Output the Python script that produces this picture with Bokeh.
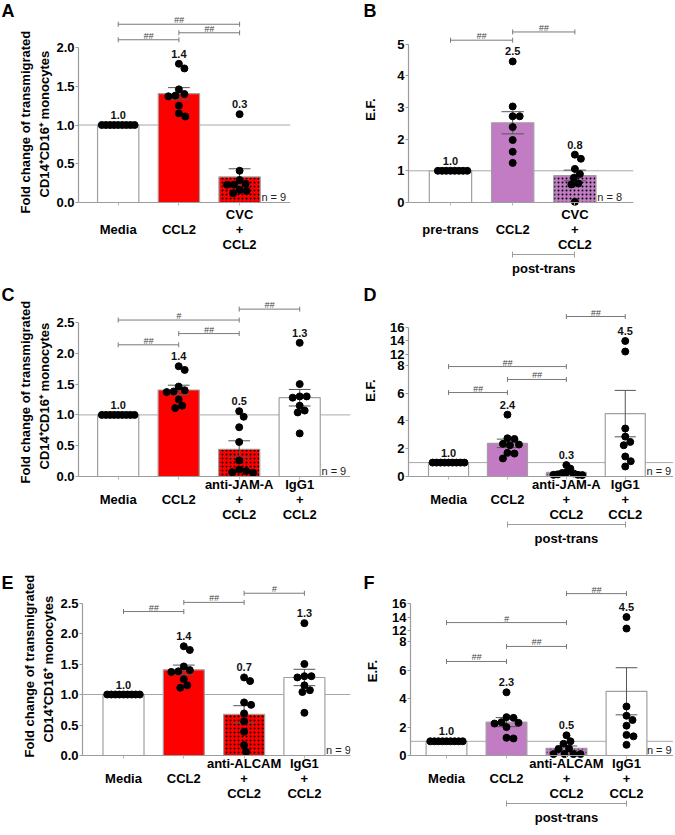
import numpy as np
from bokeh.plotting import figure
from bokeh.models import (Range1d, FixedTicker, Span, LinearAxis, Title,
                          NumeralTickFormatter, ColumnDataSource)
from bokeh.layouts import column, row
from bokeh.embed import file_html
from bokeh.resources import INLINE
from bokeh.core.properties import value

FONT = "Liberation Sans"

# ------------------------------------------------------------------ data
FOLD_LABEL = ["Fold change of transmigrated", "CD14\u207aCD16\u207a monocytes"]
EF_LABEL = ["E.F."]

# Panel A
A_groups = ["Media", "CCL2", "CVC\n+\nCCL2"]
A_media = [1.0, 1.0, 1.0, 1.0, 1.0, 1.0, 1.0, 1.0, 1.0]
A_ccl2 = [1.79, 1.73, 1.46, 1.40, 1.38, 1.37, 1.25, 1.15, 1.11]
A_cvc = [1.14, 0.41, 0.29, 0.24, 0.23, 0.23, 0.16, 0.15, 0.12]
A_means = ["1.0", "1.4", "0.3"]
A_sig = [(0, 1, "##"), (1, 2, "##"), (0, 2, "##")]
A_yticks = [0.0, 0.5, 1.0, 1.5, 2.0]
A_n = "n = 9"

# Panel B
B_groups = ["pre-trans", "CCL2", "CVC\n+\nCCL2"]
B_pre = [1.0, 1.0, 1.0, 1.0, 1.0, 1.0, 1.0, 1.0]
B_ccl2 = [4.45, 3.03, 2.72, 2.72, 2.38, 1.97, 1.60, 1.25]
B_cvc = [1.51, 1.38, 1.06, 0.90, 0.78, 0.60, 0.57, 0.02]
B_means = ["1.0", "2.5", "0.8"]
B_sig = [(0, 1, "##"), (1, 2, "##")]
B_yticks = [0, 1, 2, 3, 4, 5]
B_n = "n = 8"
B_post = (1, 2, "post-trans")

# Panel C
C_groups = ["Media", "CCL2", "anti-JAM-A\n+\nCCL2", "IgG1\n+\nCCL2"]
C_media = [1.0, 1.0, 1.0, 1.0, 1.0, 1.0, 1.0, 1.0, 1.0]
C_ccl2 = [1.79, 1.73, 1.46, 1.40, 1.38, 1.37, 1.25, 1.15, 1.11]
C_antijam = [1.06, 0.97, 0.80, 0.56, 0.26, 0.11, 0.09, 0.07, 0.06]
C_igg1 = [2.17, 1.50, 1.30, 1.30, 1.28, 1.15, 1.07, 1.04, 0.70]
C_means = ["1.0", "1.4", "0.5", "1.3"]
C_sig = [(0, 1, "##"), (1, 2, "##"), (0, 2, "#"), (2, 3, "##")]
C_yticks = [0.0, 0.5, 1.0, 1.5, 2.0, 2.5]
C_n = "n = 9"

# Panel D
D_groups = ["Media", "CCL2", "anti-JAM-A\n+\nCCL2", "IgG1\n+\nCCL2"]
D_media = [1.0, 1.0, 1.0, 1.0, 1.0, 1.0, 1.0, 1.0, 1.0]
D_ccl2 = [4.45, 2.75, 2.70, 2.35, 2.30, 2.25, 1.70, 1.65, 1.30]
D_antijam = [0.82, 0.57, 0.30, 0.25, 0.22, 0.15, 0.12, 0.12, 0.10]
D_igg1 = [14.0, 12.4, 3.45, 2.87, 2.49, 2.25, 1.44, 1.10, 0.72]
D_means = ["1.0", "2.4", "0.3", "4.5"]
D_sig = [(0, 1, "##"), (1, 2, "##"), (0, 2, "##"), (2, 3, "##")]
D_yticks = [0, 2, 4, 6, 8, 12, 14, 16]
D_n = "n = 9"
D_post = (1, 3, "post-trans")

# Panel E
E_groups = ["Media", "CCL2", "anti-ALCAM\n+\nCCL2", "IgG1\n+\nCCL2"]
E_media = [1.0, 1.0, 1.0, 1.0, 1.0, 1.0, 1.0, 1.0, 1.0]
E_ccl2 = [1.79, 1.73, 1.46, 1.40, 1.38, 1.37, 1.25, 1.15, 1.11]
E_antialcam = [1.28, 1.22, 0.87, 0.83, 0.69, 0.56, 0.39, 0.17, 0.06]
E_igg1 = [2.17, 1.50, 1.30, 1.30, 1.28, 1.15, 1.07, 1.04, 0.70]
E_means = ["1.0", "1.4", "0.7", "1.3"]
E_sig = [(0, 1, "##"), (1, 2, "##"), (2, 3, "#")]
E_yticks = [0.0, 0.5, 1.0, 1.5, 2.0, 2.5]
E_n = "n = 9"

# Panel F
F_groups = ["Media", "CCL2", "anti-ALCAM\n+\nCCL2", "IgG1\n+\nCCL2"]
F_media = [1.0, 1.0, 1.0, 1.0, 1.0, 1.0, 1.0, 1.0, 1.0]
F_ccl2 = [4.45, 2.70, 2.65, 2.35, 2.30, 2.25, 2.00, 1.25, 1.20]
F_antialcam = [1.42, 1.00, 0.82, 0.50, 0.45, 0.10, 0.10, 0.10, 0.10]
F_igg1 = [14.0, 12.3, 3.45, 2.80, 2.50, 2.10, 1.45, 1.35, 0.75]
F_means = ["1.0", "2.3", "0.5", "4.5"]
F_sig = [(0, 1, "##"), (1, 2, "##"), (0, 2, "#"), (2, 3, "##")]
F_yticks = [0, 2, 4, 6, 8, 12, 14, 16]
F_n = "n = 9"
F_post = (1, 3, "post-trans")

PANELS = {
    "A": dict(groups=A_groups, values=[A_media, A_ccl2, A_cvc], means=A_means, sig=A_sig,
              yticks=A_yticks, n=A_n, post=None, ylabel=FOLD_LABEL, broken=False, fmt="0.0"),
    "B": dict(groups=B_groups, values=[B_pre, B_ccl2, B_cvc], means=B_means, sig=B_sig,
              yticks=B_yticks, n=B_n, post=B_post, ylabel=EF_LABEL, broken=False, fmt="0"),
    "C": dict(groups=C_groups, values=[C_media, C_ccl2, C_antijam, C_igg1], means=C_means, sig=C_sig,
              yticks=C_yticks, n=C_n, post=None, ylabel=FOLD_LABEL, broken=False, fmt="0.0"),
    "D": dict(groups=D_groups, values=[D_media, D_ccl2, D_antijam, D_igg1], means=D_means, sig=D_sig,
              yticks=D_yticks, n=D_n, post=D_post, ylabel=EF_LABEL, broken=True, fmt="0"),
    "E": dict(groups=E_groups, values=[E_media, E_ccl2, E_antialcam, E_igg1], means=E_means, sig=E_sig,
              yticks=E_yticks, n=E_n, post=None, ylabel=FOLD_LABEL, broken=False, fmt="0.0"),
    "F": dict(groups=F_groups, values=[F_media, F_ccl2, F_antialcam, F_igg1], means=F_means, sig=F_sig,
              yticks=F_yticks, n=F_n, post=F_post, ylabel=EF_LABEL, broken=True, fmt="0"),
}

# ------------------------------------------------------------------ style / layout
RED = "#FF0000"
PURPLE = "#C17CC3"
WHITE = "#FFFFFF"
GREY = "#9c9c9c"
PAD = 4  # px of frame below zero

LAYOUT = {
    "A": dict(w=360, h=284, left=78, right=70, top=12, bottom=78, x0=-0.654, ppx=60.7, ppu=77.5,
              fills=[WHITE, RED, RED], hatches=[" ", " ", "."], sig_y=[2.10, 2.19, 2.30],
              xstand=0, post_gap=0, ystand=0, letter_x=1, letter_so=-16, yoff=[-7, 9], nx=0.36),
    "B": dict(w=313, h=284, left=48, right=40, top=12, bottom=78, x0=-0.675, ppx=62.2, ppu=31.7,
              fills=[WHITE, PURPLE, PURPLE], hatches=[" ", " ", "."], sig_y=[5.12, 5.38],
              xstand=0, post_gap=0, ystand=16, letter_x=3, letter_so=-16, yoff=None, nx=0.36),
    "C": dict(w=360, h=270, left=78, right=10, top=16, bottom=74, x0=-0.656, ppx=60.5, ppu=61.6,
              fills=[WHITE, RED, RED, WHITE], hatches=[" ", " ", ".", " "], sig_y=[2.138, 2.32, 2.54, 2.717],
              xstand=-4, post_gap=0, ystand=0, letter_x=1, letter_so=-8, yoff=[-3, 11], nx=0.36),
    "D": dict(w=313, h=270, left=48, right=0, top=16, bottom=74, x0=-0.68, ppx=58.9, ppu=13.9,
              fills=[WHITE, PURPLE, PURPLE, WHITE], hatches=[" ", " ", ".", " "], sig_y=[6.04, 6.98, 7.91, 11.51],
              xstand=-4, post_gap=0, ystand=9, letter_x=3, letter_so=-8, yoff=None, nx=0.36),
    "E": dict(w=360, h=279, left=82, right=10, top=28, bottom=74, x0=-0.68, ppx=60.3, ppu=61.0,
              fills=[WHITE, RED, RED, WHITE], hatches=[" ", " ", ".", " "], sig_y=[2.36, 2.51, 2.66],
              xstand=-4, post_gap=0, ystand=0, letter_x=1, letter_so=-20, yoff=[2, 17], nx=0.36),
    "F": dict(w=313, h=279, left=50, right=0, top=28, bottom=74, x0=-0.6, ppx=60.0, ppu=14.2,
              fills=[WHITE, PURPLE, PURPLE, WHITE], hatches=[" ", " ", ".", " "], sig_y=[6.62, 7.68, 9.36, 11.4],
              xstand=-4, post_gap=0, ystand=9, letter_x=3, letter_so=-20, yoff=None, nx=0.34),
}
YTITLE_STANDOFF = (2, 2)  # (line nearest the axis, outer line)

BRK_LO, BRK_HI, BRK_GAP, BRK_K = 8.0, 12.0, 0.8, 0.475


def brk(v):
    v = np.asarray(v, dtype=float)
    out = np.where(v <= BRK_LO, v, BRK_LO + BRK_GAP + (v - BRK_HI) * BRK_K)
    return np.round(out, 4)


def ident(v):
    return np.asarray(v, dtype=float)


def swarm(ypx, d, limit):
    """Simple beeswarm: x offsets (px) so that dots of diameter d don't overlap."""
    ypx = np.asarray(ypx, float)
    cands = [0.0]
    for k in range(1, 400):
        cands += [k * 0.5, -k * 0.5]
    offs = np.zeros(len(ypx))
    placed = []
    for i in np.argsort(-ypx, kind="stable"):
        for c in cands:
            if all((c - ox) ** 2 + (ypx[i] - oy) ** 2 >= d * d - 1e-6 for ox, oy in placed):
                offs[i] = c
                placed.append((c, ypx[i]))
                break
    m = np.max(np.abs(offs)) if len(offs) else 0
    if m > limit:
        offs = offs * limit / m
    return offs


def display_labels(groups):
    nmax = max(g.count("\n") + 1 for g in groups)
    out = []
    for g in groups:
        lines = g.count("\n") + 1
        out.append("\n" + g if (nmax == 3 and lines == 1) else g)
    return out


def style_text(obj, prefix, size="13px", style="bold"):
    setattr(obj, prefix + "_text_font", FONT)
    setattr(obj, prefix + "_text_font_size", size)
    setattr(obj, prefix + "_text_font_style", style)
    setattr(obj, prefix + "_text_color", "black")


def build(key):
    d = PANELS[key]
    L = LAYOUT[key]
    n = len(d["groups"])
    tf = brk if d["broken"] else ident
    fh = L["h"] - L["top"] - L["bottom"]
    fw = L["w"] - L["left"] - L["right"]
    ppu, ppx = L["ppu"], L["ppx"]
    ys = -PAD / ppu
    ye = ys + fh / ppu
    x0 = L["x0"]
    x1 = x0 + fw / ppx

    p = figure(width=L["w"], height=L["h"], x_range=Range1d(x0, x1), y_range=Range1d(ys, ye),
               output_backend="svg", toolbar_location=None, title=key,
               min_border_left=L["left"], min_border_right=L["right"],
               min_border_top=L["top"], min_border_bottom=L["bottom"])
    p.outline_line_color = None
    p.xgrid.visible = False
    p.ygrid.visible = False
    p.background_fill_color = "white"
    p.border_fill_color = "white"

    # panel letter (title pulled down next to the frame's top-left corner)
    p.title.align = "left"
    p.title.vertical_align = "bottom"
    p.title.offset = L["letter_x"] - L["left"]
    p.title.standoff = L["letter_so"]
    p.title.text_font = FONT
    p.title.text_font_size = "18px"
    p.title.text_font_style = "bold"
    p.title.text_color = "black"

    # reference line at 1
    p.add_layout(Span(location=float(tf([1.0])[0]), dimension="width", line_color="#a8a8a8",
                      line_width=1, level="underlay"))

    vals = [np.asarray(v, float) for v in d["values"]]
    means = np.array([v.mean() for v in vals])
    sems = np.array([v.std(ddof=1) / np.sqrt(len(v)) for v in vals])
    xs = np.arange(n, dtype=float)

    src = ColumnDataSource(dict(x=xs, top=tf(means), fill=L["fills"], hatch=L["hatches"]))
    p.vbar(x="x", top="top", bottom=0, width=0.68, source=src, fill_color="fill",
           line_color="#a0a0a0", line_width=1.2, hatch_pattern="hatch", hatch_color="black",
           hatch_scale=4, hatch_weight=1.2)

    # error bars (mean +/- SEM)
    hi = tf(means + sems)
    lo = tf(means - sems)
    cap = 0.18
    ec = "#555555"
    p.segment(x0=xs, y0=lo, x1=xs, y1=hi, line_color=ec, line_width=1)
    p.segment(x0=xs - cap, y0=hi, x1=xs + cap, y1=hi, line_color=ec, line_width=1)
    p.segment(x0=xs - cap, y0=lo, x1=xs + cap, y1=lo, line_color=ec, line_width=1)

    # individual points
    dx, dy = [], []
    for i, v in enumerate(vals):
        yt = tf(v)
        offs = swarm(yt * ppu, 7.0, 0.27 * ppx)
        dx += list(i + offs / ppx)
        dy += list(yt)
    p.scatter(x=dx, y=dy, size=7, fill_color="black", line_color="black")

    # mean labels
    tops = [max(float(tf(v).max()), float(h)) for v, h in zip(vals, hi)]
    p.text(x=xs, y=tops, text=d["means"], text_align="center", text_baseline="bottom",
           y_offset=-6, text_font=value(FONT), text_font_style="bold", text_font_size="11px",
           text_color="#111111")

    # significance brackets
    bc = "#7a7a7a"
    for (i, j, t), yl in zip(d["sig"], L["sig_y"]):
        p.segment(x0=[i], y0=[yl], x1=[j], y1=[yl], line_color=bc, line_width=1)
        p.scatter(x=[i, j], y=[yl, yl], marker="dash", angle=np.pi / 2, size=5,
                  line_color=bc, line_width=1)
        p.text(x=[(i + j) / 2], y=[yl], text=[t], text_align="center", text_baseline="bottom",
               y_offset=1, text_font=value(FONT), text_font_size="9px", text_color="#444444",
               text_font_style="italic")

    # n label
    p.text(x=[n - 1 + L["nx"]], y=[0], text=[d["n"]], text_align="left", text_baseline="bottom",
           text_font=value(FONT), text_font_size="11px", text_color="#222222")

    # x axis 1: category labels only (at frame bottom)
    xa = p.xaxis[0]
    xa.ticker = FixedTicker(ticks=list(range(n)))
    xa.major_label_overrides = {i: s for i, s in enumerate(display_labels(d["groups"]))}
    xa.axis_line_color = None
    xa.major_tick_line_color = None
    xa.minor_tick_line_color = None
    xa.major_tick_out = 0
    xa.major_tick_in = 0
    xa.major_label_standoff = L["xstand"]
    style_text(xa, "major_label")
    xa.major_label_text_line_height = 1.0

    # x axis 2: rule at zero with small ticks
    xr = LinearAxis(fixed_location=0, ticker=FixedTicker(ticks=list(range(n))))
    xr.major_label_overrides = {i: " " for i in range(n)}
    xr.major_label_text_font_size = "1px"
    xr.major_label_standoff = L["post_gap"]
    xr.axis_line_color = GREY
    xr.axis_line_width = 1.2
    xr.major_tick_out = 3
    xr.major_tick_in = 0
    xr.major_tick_line_color = "#b5b5b5"
    xr.minor_tick_line_color = None
    p.add_layout(xr, "below")

    # y axis
    ya = p.yaxis[0]
    yt = [float(t) for t in tf(d["yticks"])]
    ya.ticker = FixedTicker(ticks=yt)
    ya.bounds = (0, yt[-1])
    ya.formatter = NumeralTickFormatter(format=d["fmt"])
    if d["broken"]:
        ya.major_label_overrides = {t: str(o) for t, o in zip(yt, d["yticks"]) if o > BRK_LO}
    ya.axis_line_color = GREY
    ya.axis_line_width = 1.2
    ya.major_tick_out = 3
    ya.major_tick_in = 0
    ya.major_tick_line_color = GREY
    ya.minor_tick_line_color = None
    ya.major_label_standoff = 1
    style_text(ya, "major_label")

    # y axis title
    if L["yoff"] is None:
        ya.axis_label = "\n".join(d["ylabel"])
        style_text(ya, "axis_label")
        ya.axis_label_standoff = L["ystand"]
    else:
        # two-line title, second line nearest the axis
        for txt, off, so in ((d["ylabel"][1], L["yoff"][1], YTITLE_STANDOFF[0]),
                             (d["ylabel"][0], L["yoff"][0], YTITLE_STANDOFF[1])):
            t = Title(text=txt, align="left", vertical_align="middle", offset=off, standoff=so,
                      text_font=FONT, text_font_size="13px", text_font_style="bold",
                      text_color="black")
            p.add_layout(t, "left")

    # post-trans bracket
    if d["post"] is not None:
        a, b, t = d["post"]
        mid = (a + b) / 2
        if float(mid).is_integer():
            mid = int(mid)
        ax2 = LinearAxis(ticker=FixedTicker(ticks=[mid], minor_ticks=[a, b]), bounds=(a, b))
        ax2.major_label_overrides = {mid: t}
        ax2.axis_line_color = GREY
        ax2.axis_line_width = 1
        ax2.major_tick_out = 0
        ax2.major_tick_in = 0
        ax2.minor_tick_in = 3
        ax2.minor_tick_out = 3
        ax2.minor_tick_line_color = GREY
        ax2.major_label_standoff = 3
        style_text(ax2, "major_label")
        p.add_layout(ax2, "below")
    return p


figs = {k: build(k) for k in "ABCDEF"}
layout = column(row(figs["A"], figs["B"]), row(figs["C"], figs["D"]), row(figs["E"], figs["F"]))
open("out.html", "w").write(file_html(layout, INLINE))
